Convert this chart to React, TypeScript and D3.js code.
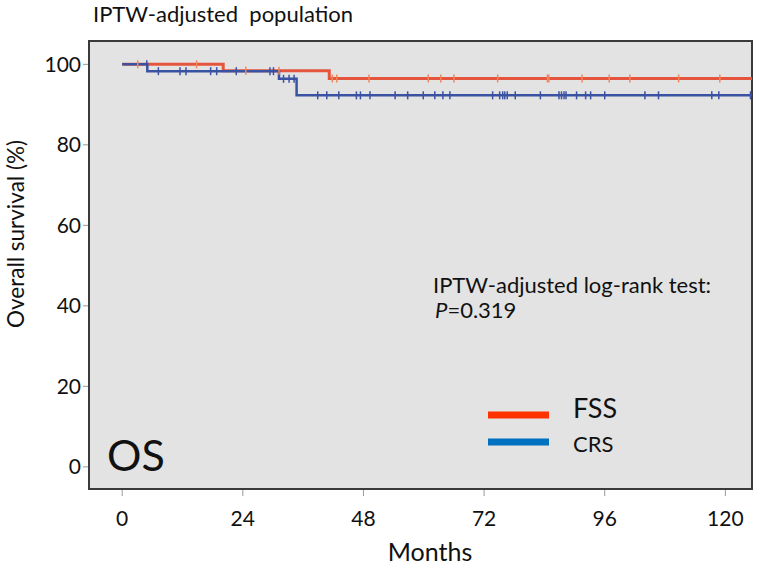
import React from "react";
import * as d3 from "d3";

const xTicks = [0, 24, 48, 72, 96, 120];
const yTicks = [0, 20, 40, 60, 80, 100];

// Kaplan-Meier step points (months, survival %)
const fssTimes = [0, 20.1, 41.2];
const fssSurv = [100, 98.4, 96.5];
const crsTimes = [0, 5.0, 31.2, 34.7];
const crsSurv = [100, 98.3, 96.4, 92.3];

const fssCensor = [3.1, 14.8, 24.6, 31.2, 41.8, 42.7, 49.1, 60.9, 63.4, 66, 74.7, 84.6, 84.9, 91.5, 96.9, 101, 110.7, 118.9];
const crsCensor = [4.9, 7.2, 11.5, 12.7, 17.6, 18.8, 22.7, 29.4, 30.1, 32.1, 33.2, 34.2, 38.9, 40.7, 43.1, 46.6, 47.4, 49.3, 54.3, 56.8, 59.9, 62.2, 63.8, 65.2, 73.7, 75.1, 75.7, 76.1, 76.6, 78.2, 83.2, 86.9, 87.4, 87.9, 88.3, 90.4, 92.2, 93.2, 96, 104, 106.7, 117.3, 118.7, 125];

const maxTime = 125.3;

const W = 758;
const H = 570;
const FONT = "Lato, 'Open Sans', sans-serif";

function survAt(times: number[], surv: number[], t: number) {
  let s = surv[0];
  for (let i = 0; i < times.length; i++) if (times[i] <= t) s = surv[i];
  return s;
}

export default function App() {
  const x = d3.scaleLinear().domain([-6.6, 125.3]).range([89, 752]);
  const y = d3.scaleLinear().domain([-5.5, 105.8]).range([489, 41]);
  const line = d3
    .line<[number, number]>()
    .x((d) => x(d[0]))
    .y((d) => y(d[1]))
    .curve(d3.curveStepAfter);

  const fssPts: [number, number][] = fssTimes.map((t, i) => [t, fssSurv[i]]);
  fssPts.push([maxTime, fssSurv[fssSurv.length - 1]]);
  const crsPts: [number, number][] = crsTimes.map((t, i) => [t, crsSurv[i]]);
  crsPts.push([maxTime, crsSurv[crsSurv.length - 1]]);

  const red = "#e5553d";
  const redTick = "#f0875a";
  const blue = "#3a52a2";

  return (
    <svg
      width={W}
      height={H}
      style={{ position: "absolute", left: 0, top: 0, background: "#fff" }}
      fontFamily={FONT}
    >
      <text x={93} y={22} fontSize={22} fill="#111" style={{ whiteSpace: "pre" }}>
        IPTW-adjusted  population
      </text>
      <rect x={89} y={41} width={663} height={448} fill="#e3e3e3" stroke="#3a3a3a" strokeWidth={2} />
      {yTicks.map((v) => (
        <g key={"y" + v}>
          <line x1={83} x2={88} y1={y(v)} y2={y(v)} stroke="#999" strokeWidth={1} />
          <text x={81} y={y(v) + 7.5} fontSize={21} textAnchor="end" fill="#111">
            {v}
          </text>
        </g>
      ))}
      {xTicks.map((v) => (
        <g key={"x" + v}>
          <line x1={x(v)} x2={x(v)} y1={490} y2={496} stroke="#999" strokeWidth={1} />
          <text x={x(v)} y={526} fontSize={21} textAnchor="middle" fill="#111">
            {v}
          </text>
        </g>
      ))}
      <text
        transform={`translate(24,234) rotate(-90)`}
        fontSize={22.5}
        textAnchor="middle"
        fill="#111"
      >
        Overall survival (%)
      </text>
      <text x={430} y={561} fontSize={25} textAnchor="middle" fill="#111">
        Months
      </text>
      <path d={line(fssPts) || ""} fill="none" stroke={red} strokeWidth={3} />
      <path d={line(crsPts) || ""} fill="none" stroke={blue} strokeWidth={2.5} />
      {fssCensor.map((t, i) => {
        const yy = y(survAt(fssTimes, fssSurv, t));
        return <line key={"fc" + i} x1={x(t)} x2={x(t)} y1={yy - 4} y2={yy + 4} stroke={redTick} strokeWidth={1.5} />;
      })}
      {crsCensor.map((t, i) => {
        const yy = y(survAt(crsTimes, crsSurv, t));
        return <line key={"cc" + i} x1={x(t)} x2={x(t)} y1={yy - 4} y2={yy + 4} stroke={blue} strokeWidth={1.5} />;
      })}
      <text x={433} y={293} fontSize={22} fill="#111">
        IPTW-adjusted log-rank test:
      </text>
      <text x={435} y={318} fontSize={22} fill="#111">
        <tspan fontStyle="italic">P</tspan>=0.319
      </text>
      <line x1={488} x2={549} y1={415} y2={415} stroke="#ff3300" strokeWidth={7} />
      <text x={573} y={418} fontSize={27} fill="#111">
        FSS
      </text>
      <line x1={488} x2={549} y1={442} y2={442} stroke="#0070c0" strokeWidth={7} />
      <text x={573} y={452} fontSize={22} fill="#111">
        CRS
      </text>
      <text x={107} y={471} fontSize={43} fill="#111">
        OS
      </text>
    </svg>
  );
}
